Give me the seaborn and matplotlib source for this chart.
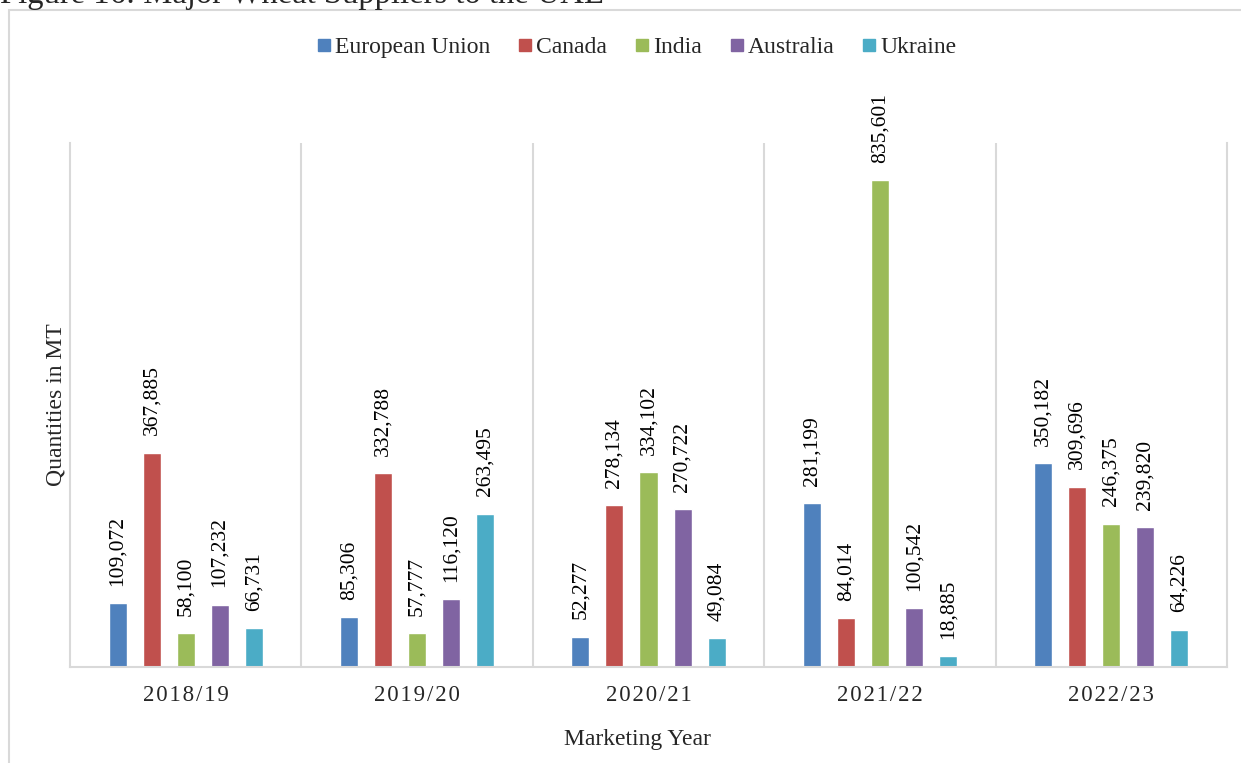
import matplotlib
matplotlib.use("Agg")
import matplotlib.pyplot as plt
from matplotlib.lines import Line2D
from matplotlib.patches import Rectangle
import seaborn as sns
import pandas as pd

years = ["2018/19", "2019/20", "2020/21", "2021/22", "2022/23"]
suppliers = ["European Union", "Canada", "India", "Australia", "Ukraine"]
eu = [109072, 85306, 52277, 281199, 350182]
canada = [367885, 332788, 278134, 84014, 309696]
india = [58100, 57777, 334102, 835601, 246375]
australia = [107232, 116120, 270722, 100542, 239820]
ukraine = [66731, 263495, 49084, 18885, 64226]
colors = ["#4F81BD", "#C0504D", "#9BBB59", "#8064A2", "#4BACC6"]

series = [eu, canada, india, australia, ukraine]
rows = []
for name, vals in zip(suppliers, series):
    for y, v in zip(years, vals):
        rows.append({"Year": y, "Supplier": name, "Value": v})
df = pd.DataFrame(rows)

sns.set_theme(style="white")
plt.rcParams["font.family"] = ["Liberation Serif", "DejaVu Serif"]

fig = plt.figure(figsize=(12.41, 7.63), dpi=100)
ax = fig.add_axes([70/1241, 1-667/763, 1157/1241, 524/763])

sns.barplot(data=df, x="Year", y="Value", hue="Supplier", order=years,
            hue_order=suppliers, palette=colors, width=0.735, gap=0.47,
            legend=False, ax=ax, errorbar=None, saturation=1)

for cont, vals in zip(ax.containers, series):
    ax.bar_label(cont, labels=[f"{v:,}" for v in vals], rotation=90,
                 padding=12.5, fontsize=15.5, color="#000000")

ax.set_ylim(0, 900000)
ax.set_xlim(-0.5, 4.5)
ax.set_yticks([])
ax.set_xticks(range(len(years)))
ax.set_xticklabels(["\u200a".join(y) for y in years], fontsize=16.5)
ax.tick_params(axis="x", length=0, pad=13)
ax.set_xticks([0.5, 1.5, 2.5, 3.5], minor=True)
ax.tick_params(axis="x", which="minor", length=0)
ax.grid(axis="x", which="minor", color="#d9d9d9", linewidth=1.5)
ax.grid(axis="x", which="major", visible=False)
ax.grid(axis="y", visible=False)
for s in ["left", "right", "bottom"]:
    ax.spines[s].set_color("#d9d9d9")
    ax.spines[s].set_linewidth(1.5)
ax.spines["top"].set_visible(False)

ax.set_xlabel("Marketing Year", fontsize=17)
ax.xaxis.set_label_coords((637-70)/1157, -0.118)
ax.set_ylabel("Quantities in MT", fontsize=17)
ax.yaxis.set_label_coords(-0.003, 0.5)

handles = [Line2D([0], [0], marker="s", linestyle="none", markersize=8.6,
                  markerfacecolor=c, markeredgecolor=c) for c in colors]
fig.legend(handles, suppliers, loc="center", bbox_to_anchor=(637/1241, 1-47/763),
           ncol=5, frameon=False, fontsize=17, handlelength=0.55,
           handletextpad=0.2, columnspacing=1.2)

fig.patches.append(Rectangle((9/1241, -0.05), 1.2, 1.05 - 10/763,
                             transform=fig.transFigure, fill=False,
                             edgecolor="#d9d9d9", linewidth=1.5))

fig.text(0.0, 1-3/763, "Figure 16: Major Wheat Suppliers to the UAE",
         fontsize=23.5, va="baseline", ha="left")

fig.savefig("out.png", dpi=100)
